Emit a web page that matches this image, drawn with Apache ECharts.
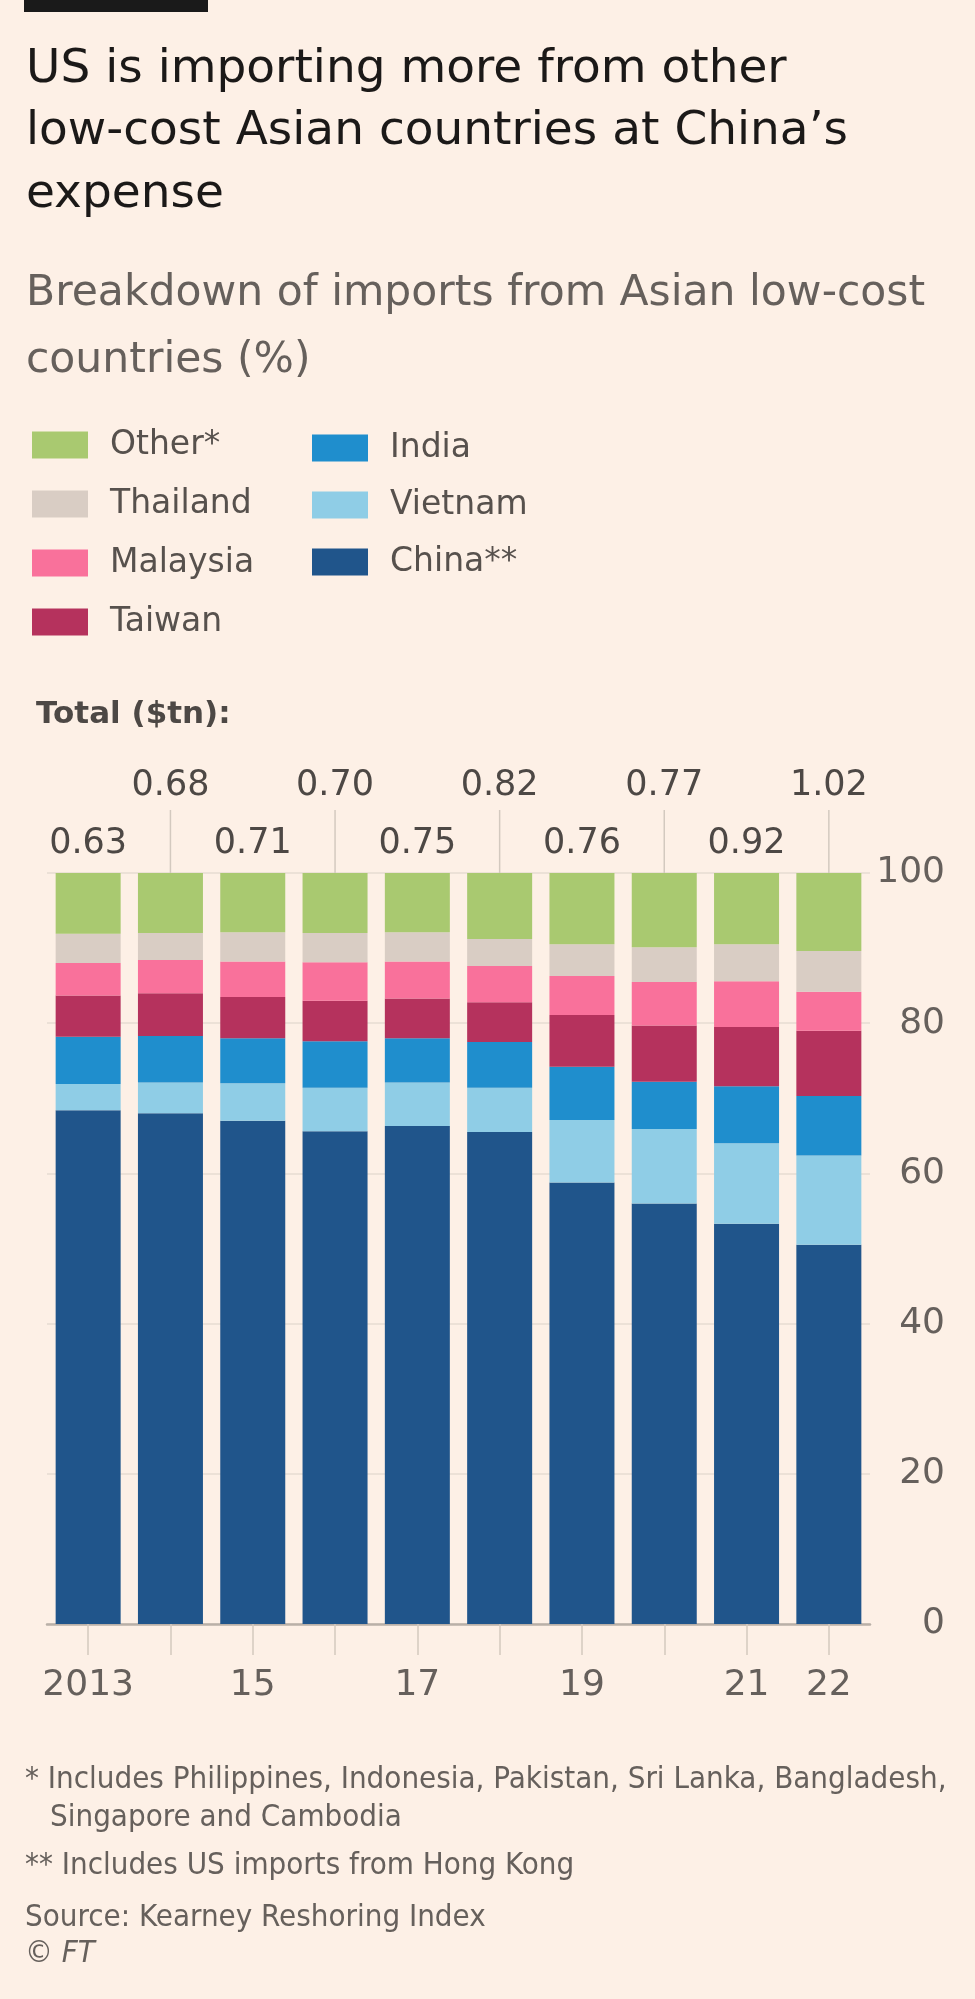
<!DOCTYPE html>
<html>
<head>
<meta charset="utf-8">
<script src="https://cdn.jsdelivr.net/npm/echarts@6/dist/echarts.min.js"></script>
<style>
html,body{margin:0;padding:0;background:#fdf0e6;}
#chart{width:975px;height:1999px;}
</style>
</head>
<body>
<div id="chart"></div>
<script>
// ---- data ----
const years = ['2013','2014','2015','2016','2017','2018','2019','2020','2021','2022'];
const yearLabels = ['2013','','15','','17','','19','','21','22'];
const totals = [0.63,0.68,0.71,0.70,0.75,0.82,0.76,0.77,0.92,1.02];
const china    = [68.4,68.0,67.0,65.6,66.3,65.5,58.8,56.0,53.3,50.5];
const vietnam  = [3.5,4.1,5.0,5.8,5.8,5.9,8.3,9.9,10.7,11.9];
const india    = [6.3,6.2,6.0,6.2,5.9,6.1,7.1,6.3,7.6,7.9];
const taiwan   = [5.5,5.7,5.5,5.4,5.3,5.3,6.9,7.5,7.9,8.7];
const malaysia = [4.3,4.4,4.7,5.1,4.9,4.8,5.2,5.8,6.1,5.2];
const thailand = [3.9,3.6,3.9,3.9,3.9,3.6,4.2,4.6,4.9,5.4];
const other    = [8.1,8.0,7.9,8.0,7.9,8.8,9.5,9.9,9.5,10.4];
const yTicks = [0,20,40,60,80,100];

// ---- styles ----
const FONT = "'DejaVu Sans', Roboto, sans-serif";
const NOTEFONT = "'Liberation Sans Narrow', 'DejaVu Sans Condensed', Roboto, sans-serif";
const colors = {
  'China**':'#20558b','Vietnam':'#8fcde6','India':'#1f8ecd','Taiwan':'#b5325d',
  'Malaysia':'#f9719b','Thailand':'#d9cdc4','Other*':'#a9c970'
};
const stackSeries = [
  ['China**', china], ['Vietnam', vietnam], ['India', india], ['Taiwan', taiwan],
  ['Malaysia', malaysia], ['Thailand', thailand], ['Other*', other]
];

const chart = echarts.init(document.getElementById('chart'), null, {renderer:'canvas'});

const series = stackSeries.map(([name, vals]) => ({
  name, type:'bar', stack:'total', data: vals, barWidth: 65,
  itemStyle:{color: colors[name]}, emphasis:{disabled:true}, animation:false
}));

series.push({
  type:'custom', name:'totals', silent:true, animation:false, z:10, clip:false,
  data: totals.map((t,i)=>[i,100,t]),
  encode:{x:0,y:1},
  renderItem(params, api){
    const i = api.value(0);
    const p = api.coord([i, 100]);
    const upper = i % 2 === 1;
    const children = [{
      type:'text',
      style:{text: api.value(2).toFixed(2), x:p[0], y: upper ? p[1]-87 : p[1]-29,
        align:'center', verticalAlign:'middle', fill:'#4d4845', font:'35px ' + FONT}
    }];
    if (upper) children.push({type:'line', shape:{x1:p[0], y1:p[1]-63, x2:p[0], y2:p[1]},
      style:{stroke:'#d3c9bf', lineWidth:1.5}});
    return {type:'group', children};
  }
});

const legendText = {fontSize:33, fontFamily:FONT, color:'#57514d', lineHeight:34, padding:[0,0,0,17]};

const option = {
  backgroundColor:'#fdf0e6',
  animation:false,
  grid:{left:47, right:105, top:873, bottom:375, containLabel:false},
  xAxis:{
    type:'category', data: years,
    axisLine:{show:true, lineStyle:{color:'#b9b0a8', width:2.5}},
    axisTick:{show:true, alignWithLabel:true, length:31, lineStyle:{color:'#d3c9bf', width:1.5}},
    axisLabel:{interval:0, margin:44, fontSize:36, fontFamily:FONT, color:'#66605c',
      formatter:(v, idx)=> yearLabels[idx]}
  },
  yAxis:{
    type:'value', position:'right', min:0, max:100, interval:20,
    axisLine:{show:false}, axisTick:{show:false},
    splitLine:{show:true, lineStyle:{color:'#e6dcd2', width:1.5}},
    axisLabel:{fontSize:36, fontFamily:FONT, color:'#66605c', align:'right', margin:75,
      formatter:v=> yTicks.includes(v) ? String(v) : ''}
  },
  legend:[
    {orient:'vertical', left:32, top:428, itemWidth:56, itemHeight:27, itemGap:25, padding:0,
     icon:'rect', selectedMode:false, data:['Other*','Thailand','Malaysia','Taiwan'], textStyle:legendText},
    {orient:'vertical', left:312, top:431, itemWidth:56, itemHeight:27, itemGap:23, padding:0,
     icon:'rect', selectedMode:false, data:['India','Vietnam','China**'], textStyle:legendText}
  ],
  graphic:[
    {type:'rect', shape:{x:24, y:0, width:184, height:12}, style:{fill:'#1a1a1a'}},
    {type:'text', x:26, y:70, style:{text:'US is importing more from other', font:'47px '+FONT, fill:'#1b1918', verticalAlign:'middle'}},
    {type:'text', x:26, y:132, style:{text:'low-cost Asian countries at China\u2019s', font:'47px '+FONT, fill:'#1b1918', verticalAlign:'middle'}},
    {type:'text', x:26, y:195, style:{text:'expense', font:'47px '+FONT, fill:'#1b1918', verticalAlign:'middle'}},
    {type:'text', x:26, y:294, style:{text:'Breakdown of imports from Asian low-cost', font:'42.5px '+FONT, fill:'#66605c', verticalAlign:'middle'}},
    {type:'text', x:26, y:361, style:{text:'countries (%)', font:'42.5px '+FONT, fill:'#66605c', verticalAlign:'middle'}},
    {type:'text', x:36, y:715, style:{text:'Total ($tn):', font:'bold 31px '+FONT, fill:'#4d4845', verticalAlign:'middle'}},
    {type:'text', x:25, y:1780, style:{text:'* Includes Philippines, Indonesia, Pakistan, Sri Lanka, Bangladesh,', font:'31px '+NOTEFONT, fill:'#66605c', verticalAlign:'middle'}},
    {type:'text', x:50, y:1818, style:{text:'Singapore and Cambodia', font:'31px '+NOTEFONT, fill:'#66605c', verticalAlign:'middle'}},
    {type:'text', x:25, y:1866, style:{text:'** Includes US imports from Hong Kong', font:'31px '+NOTEFONT, fill:'#66605c', verticalAlign:'middle'}},
    {type:'text', x:25, y:1918, style:{text:'Source: Kearney Reshoring Index', font:'31px '+NOTEFONT, fill:'#66605c', verticalAlign:'middle'}},
    {type:'text', x:25, y:1954, style:{text:'\u00a9 FT', font:'italic 31px '+NOTEFONT, fill:'#66605c', verticalAlign:'middle'}}
  ],
  series
};
chart.setOption(option);
</script>
</body>
</html>
